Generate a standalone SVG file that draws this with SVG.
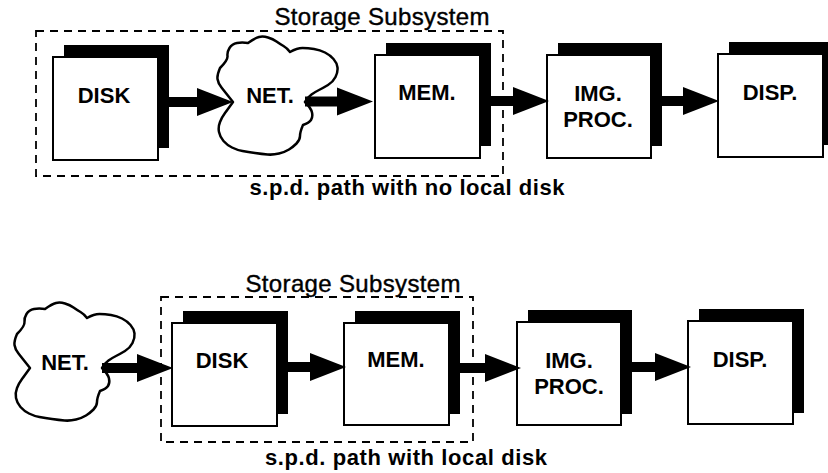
<svg xmlns="http://www.w3.org/2000/svg" width="828" height="473" viewBox="0 0 828 473">
  <style>
    .bg { fill: #ffffff; }
    .shadow { fill: #000000; }
    .face { fill: #ffffff; stroke: #000000; stroke-width: 2; }
    .cloud { fill: #ffffff; stroke: #000000; stroke-width: 2.5; stroke-linejoin: round; }
    .group { fill: none; stroke: #000000; stroke-width: 1.8; stroke-dasharray: 8 6; }
    .label { font-family: "Liberation Sans", Arial, sans-serif; font-size: 22px; font-weight: bold; fill: #000000; text-anchor: middle; }
    .title { font-family: "Liberation Sans", Arial, sans-serif; font-size: 24px; fill: #000000; stroke: #000000; stroke-width: 0.4; text-anchor: middle; }
    .caption { font-family: "Liberation Sans", Arial, sans-serif; font-size: 22px; font-weight: bold; fill: #000000; text-anchor: middle; }
    .flow { stroke: #000000; stroke-width: 10; fill: none; marker-end: url(#head); }
  </style>
  <defs>
    <!-- solid triangular arrowhead, drawn from the end of the shaft -->
    <marker id="head" markerUnits="userSpaceOnUse" markerWidth="40" markerHeight="30" refX="0" refY="14" orient="auto" overflow="visible">
      <path d="M0,0 L36,14 L0,28 Z" fill="#000000"/>
    </marker>
    <!-- network cloud outline -->
    <path id="cloudShape" class="cloud" d="M233,102 Q225,92 221.5,87.5 Q218,83 217.5,79 Q217,75 220,68
      Q228,60 227.5,56 Q227,52 229.5,48 Q232,44 237,43 Q242,42 248,43
      Q255,38 259,37 Q263,36 268,37.5 Q273,39 276.5,41.5 Q280,44 283.5,46 Q287,48 290,52
      Q297,48 302.5,48 Q308,48 314,49 Q320,50 325,52.5 Q330,55 333.5,59 Q337,63 337.5,67.5 Q338,72 335.5,77 Q333,82 328,85 Q323,88 319,90 Q315,92 311.5,94.5 Q308,97 305,102
      Q311,108 312,112.5 Q313,117 311,120 Q309,123 303,125
      Q300,132 300,136 Q300,140 296.5,143.5 Q293,147 289,149.5 Q285,152 279,153.5 Q273,155 267.5,154.5 Q262,154 255,153 Q248,152 242.5,151 Q237,150 232,147.5 Q227,145 223.5,141 Q220,137 219,132 Q218,127 220,122 Q222,117 225,113 Q228,109 233,102 Z"/>
  </defs>

  <rect class="bg" x="0" y="0" width="828" height="473"/>

  <!-- ===== upper path: no local disk ===== -->
  <g id="storage-top">
    <rect class="group" x="36" y="31" width="467" height="145"/>
    <text class="title" x="382" y="25" textLength="215" lengthAdjust="spacing">Storage Subsystem</text>
  </g>

  <g id="disk-top">
    <rect class="shadow" x="64" y="45" width="105" height="103"/>
    <rect class="face" x="53" y="57" width="105" height="103"/>
    <text class="label" x="104" y="103">DISK</text>
  </g>

  <g id="net-top">
    <use href="#cloudShape"/>
    <text class="label" x="270" y="103">NET.</text>
  </g>

  <g id="mem-top">
    <rect class="shadow" x="386" y="43" width="105" height="103"/>
    <rect class="face" x="375" y="55" width="105" height="103"/>
    <text class="label" x="427" y="100">MEM.</text>
  </g>

  <g id="imgproc-top">
    <rect class="shadow" x="558" y="43" width="104" height="103"/>
    <rect class="face" x="547" y="55" width="104" height="103"/>
    <text class="label" x="598" y="101">IMG.</text>
    <text class="label" x="598" y="127">PROC.</text>
  </g>

  <g id="disp-top">
    <rect class="shadow" x="729" y="42" width="105" height="103"/>
    <rect class="face" x="718" y="54" width="105" height="103"/>
    <text class="label" x="770" y="100">DISP.</text>
  </g>

  <text id="caption-top" class="caption" x="407" y="195" textLength="315" lengthAdjust="spacing">s.p.d. path with no local disk</text>

  <!-- ===== lower path: with local disk ===== -->
  <g id="storage-bottom">
    <rect class="group" x="161" y="297" width="312" height="145"/>
    <text class="title" x="353" y="292" textLength="215" lengthAdjust="spacing">Storage Subsystem</text>
  </g>

  <g id="net-bottom">
    <use href="#cloudShape" transform="translate(-203,266)"/>
    <text class="label" x="65" y="370">NET.</text>
  </g>

  <g id="disk-bottom">
    <rect class="shadow" x="183" y="311" width="105" height="103"/>
    <rect class="face" x="172" y="323" width="105" height="103"/>
    <text class="label" x="222" y="368">DISK</text>
  </g>

  <g id="mem-bottom">
    <rect class="shadow" x="355" y="311" width="105" height="103"/>
    <rect class="face" x="344" y="323" width="105" height="102"/>
    <text class="label" x="396" y="367">MEM.</text>
  </g>

  <g id="imgproc-bottom">
    <rect class="shadow" x="528" y="310" width="104" height="104"/>
    <rect class="face" x="517" y="322" width="104" height="103"/>
    <text class="label" x="569" y="368">IMG.</text>
    <text class="label" x="569" y="394">PROC.</text>
  </g>

  <g id="disp-bottom">
    <rect class="shadow" x="699" y="309" width="105" height="104"/>
    <rect class="face" x="688" y="321" width="105" height="103"/>
    <text class="label" x="740" y="367">DISP.</text>
  </g>

  <text id="caption-bottom" class="caption" x="406" y="465" textLength="282" lengthAdjust="spacing">s.p.d. path with local disk</text>

  <!-- ===== connectors ===== -->
  <g id="connectors">
    <line class="flow" x1="168" y1="102" x2="197" y2="102"/>
    <line class="flow" x1="305" y1="101.5" x2="337" y2="101.5"/>
    <line class="flow" x1="491" y1="101" x2="513" y2="101"/>
    <line class="flow" x1="662" y1="101" x2="683" y2="101"/>

    <line class="flow" x1="102" y1="368" x2="137" y2="368"/>
    <line class="flow" x1="288" y1="367" x2="310" y2="367"/>
    <line class="flow" x1="460" y1="368" x2="485" y2="368"/>
    <line class="flow" x1="632" y1="367" x2="655" y2="367"/>
  </g>
</svg>
